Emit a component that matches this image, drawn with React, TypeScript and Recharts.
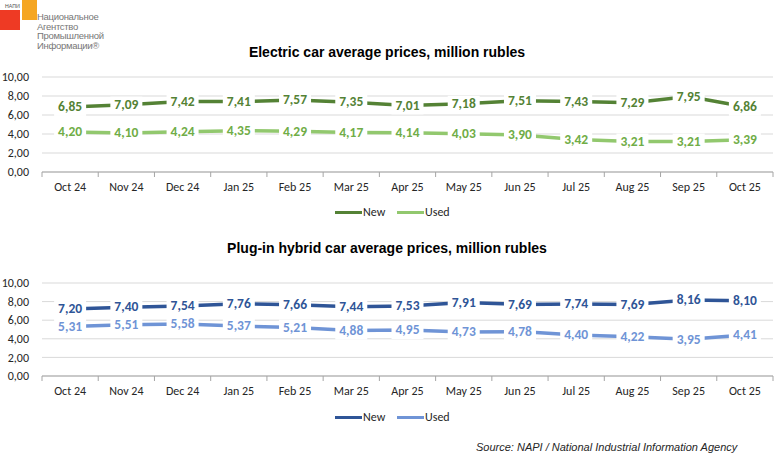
import React from "react";
import { LineChart, Line, XAxis, YAxis, CartesianGrid, LabelList } from "recharts";

const months = [
  "Oct 24", "Nov 24", "Dec 24", "Jan 25", "Feb 25", "Mar 25", "Apr 25",
  "May 25", "Jun 25", "Jul 25", "Aug 25", "Sep 25", "Oct 25",
];
const evNew = [6.85, 7.09, 7.42, 7.41, 7.57, 7.35, 7.01, 7.18, 7.51, 7.43, 7.29, 7.95, 6.86];
const evUsed = [4.2, 4.1, 4.24, 4.35, 4.29, 4.17, 4.14, 4.03, 3.9, 3.42, 3.21, 3.21, 3.39];
const phevNew = [7.2, 7.4, 7.54, 7.76, 7.66, 7.44, 7.53, 7.91, 7.69, 7.74, 7.69, 8.16, 8.1];
const phevUsed = [5.31, 5.51, 5.58, 5.37, 5.21, 4.88, 4.95, 4.73, 4.78, 4.4, 4.22, 3.95, 4.41];
const yTicks = [0, 2, 4, 6, 8, 10];

const evData = months.map((m, i) => ({ month: m, New: evNew[i], Used: evUsed[i] }));
const phevData = months.map((m, i) => ({ month: m, New: phevNew[i], Used: phevUsed[i] }));

const FONT = "Carlito, Lato, 'Liberation Sans', sans-serif";
const fmt = (v: number) => v.toFixed(2).replace(".", ",");

const PLOT_LEFT = 42;
const PLOT_RIGHT = 773;
const STEP = (PLOT_RIGHT - PLOT_LEFT) / months.length;

const makeLabel = (color: string) => (props: any) => {
  const { x, y, value } = props;
  return (
    <g>
      <rect x={x - 16} y={y - 8} width={32} height={17} fill="#fff" />
      <text
        x={x}
        y={y + 1}
        textAnchor="middle"
        dominantBaseline="middle"
        fill={color}
        fontSize={13.5}
        fontWeight="bold"
        fontFamily={FONT}
      >
        {fmt(value)}
      </text>
    </g>
  );
};

const MonthTick = (props: any) => {
  const { x, y, payload, index } = props;
  const last = index === months.length - 1;
  return (
    <g>
      <line x1={x - STEP / 2} x2={x - STEP / 2} y1={y} y2={y + 5} stroke="#a6a6a6" />
      {last && <line x1={x + STEP / 2} x2={x + STEP / 2} y1={y} y2={y + 5} stroke="#a6a6a6" />}
      <text x={x} y={y + 19} textAnchor="middle" fill="#262626" fontSize={12} fontFamily={FONT}>
        {payload.value}
      </text>
    </g>
  );
};

function PriceChart({
  data,
  top,
  height,
  marginTop,
  marginBottom,
  newColor,
  usedColor,
  newLabel,
  usedLabel,
}: any) {
  return (
    <div style={{ position: "absolute", left: 0, top }}>
      <LineChart
        width={784}
        height={height}
        data={data}
        margin={{ top: marginTop, right: 784 - PLOT_RIGHT, bottom: marginBottom, left: 0 }}
      >
        <CartesianGrid vertical={false} stroke="#d9d9d9" />
        <XAxis
          dataKey="month"
          axisLine={{ stroke: "#a6a6a6" }}
          tickLine={false}
          tickSize={0}
          tickMargin={0}
          tick={<MonthTick />}
          interval={0}
          padding={{ left: STEP / 2, right: STEP / 2 }}
          height={30}
        />
        <YAxis
          domain={[0, 10]}
          ticks={yTicks}
          interval={0}
          width={PLOT_LEFT}
          axisLine={false}
          tickLine={false}
          tickSize={0}
          tickMargin={13}
          tickFormatter={fmt}
          tick={{ fill: "#262626", fontSize: 12, fontFamily: FONT }}
        />
        <Line
          dataKey="New"
          stroke={newColor}
          strokeWidth={3.5}
          dot={false}
          isAnimationActive={false}
        >
          <LabelList dataKey="New" content={makeLabel(newLabel)} />
        </Line>
        <Line
          dataKey="Used"
          stroke={usedColor}
          strokeWidth={3.5}
          dot={false}
          isAnimationActive={false}
        >
          <LabelList dataKey="Used" content={makeLabel(usedLabel)} />
        </Line>
      </LineChart>
    </div>
  );
}

function LegendRow({ top, newColor, usedColor }: any) {
  const item = (color: string, name: string, left: number) => (
    <div style={{ position: "absolute", left, top: 0, display: "flex", alignItems: "center" }}>
      <div style={{ width: 27, height: 3, background: color }} />
      <span style={{ fontFamily: FONT, fontSize: 12, color: "#262626", marginLeft: 1 }}>{name}</span>
    </div>
  );
  return (
    <div style={{ position: "absolute", left: 0, top, width: 784, height: 16 }}>
      {item(newColor, "New", 335)}
      {item(usedColor, "Used", 397)}
    </div>
  );
}

const titleStyle: React.CSSProperties = {
  position: "absolute",
  left: 0,
  width: 774,
  textAlign: "center",
  fontFamily: "'Liberation Sans', Arial, sans-serif",
  fontWeight: "bold",
  fontSize: 14,
  color: "#000",
};

const logoLines = ["Национальное", "Агентство", "Промышленной", "Информации®"];

export default function App() {
  return (
    <div
      style={{
        position: "absolute",
        left: 0,
        top: 0,
        width: 784,
        height: 462,
        background: "#fff",
        overflow: "hidden",
      }}
    >
      {/* logo */}
      <div style={{ position: "absolute", left: 0, top: 10, width: 20, height: 20, background: "#ee3a24" }} />
      <div style={{ position: "absolute", left: 22, top: 0, width: 15, height: 20, background: "#f5a623" }} />
      <div style={{ position: "absolute", left: 5, top: 2, fontFamily: FONT, fontSize: 6, color: "#555" }}>НАПИ</div>
      {logoLines.map((t, i) => (
        <div
          key={t}
          style={{
            position: "absolute",
            left: 37,
            top: 12 + i * 9.6,
            fontFamily: "'Liberation Sans Narrow', 'Liberation Sans', sans-serif",
            fontSize: 9.5,
            lineHeight: "9.5px",
            color: "#777",
            letterSpacing: -0.3,
          }}
        >
          {t}
        </div>
      ))}

      <div style={{ ...titleStyle, top: 44 }}>Electric car average prices, million rubles</div>
      <PriceChart
        data={evData}
        top={60}
        height={170}
        marginTop={17}
        marginBottom={28}
        newColor="#548235"
        usedColor="#92c86e"
        newLabel="#548235"
        usedLabel="#70ad47"
      />
      <LegendRow top={205} newColor="#548235" usedColor="#92c86e" />

      <div style={{ ...titleStyle, top: 240 }}>Plug-in hybrid car average prices, million rubles</div>
      <PriceChart
        data={phevData}
        top={240}
        height={200}
        marginTop={43}
        marginBottom={34}
        newColor="#2f5597"
        usedColor="#6f94d6"
        newLabel="#2f5597"
        usedLabel="#6f94d6"
      />
      <LegendRow top={410} newColor="#2f5597" usedColor="#6f94d6" />

      <div
        style={{
          position: "absolute",
          left: 476,
          top: 441,
          fontFamily: "'Liberation Sans', Arial, sans-serif",
          fontStyle: "italic",
          fontSize: 11,
          color: "#262626",
        }}
      >
        Source: NAPI / National Industrial Information Agency
      </div>
    </div>
  );
}
